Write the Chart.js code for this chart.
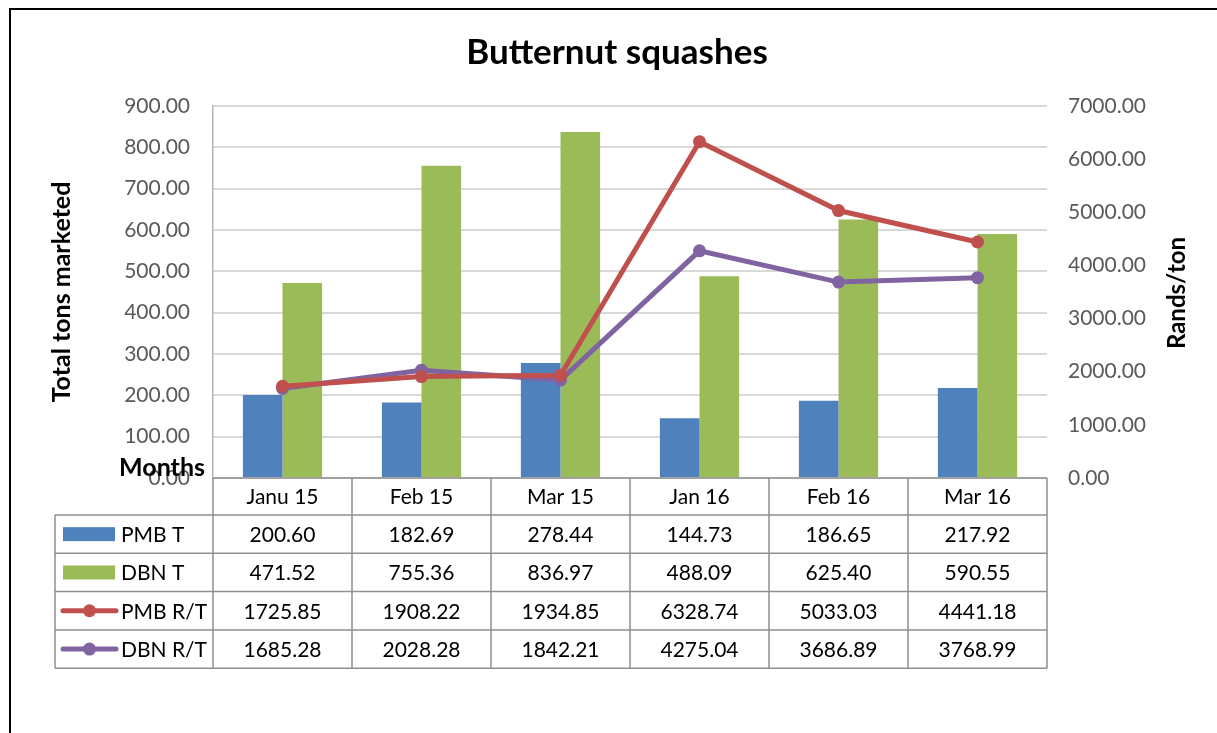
<!DOCTYPE html>
<html>
<head>
<meta charset="utf-8">
<title>Butternut squashes</title>
<script src="https://cdn.jsdelivr.net/npm/chart.js@4.4.0/dist/chart.umd.min.js"></script>
<style>
  html, body { margin: 0; padding: 0; background: #fff; }
  #wrap { position: relative; width: 1217px; height: 733px; }
</style>
</head>
<body>
<div id="wrap"><canvas id="chart" width="1217" height="733"></canvas></div>
<script>
// data
const months = ["Janu 15", "Feb 15", "Mar 15", "Jan 16", "Feb 16", "Mar 16"];
const pmbTons = [200.60, 182.69, 278.44, 144.73, 186.65, 217.92];
const dbnTons = [471.52, 755.36, 836.97, 488.09, 625.40, 590.55];
const pmbRandsPerTon = [1725.85, 1908.22, 1934.85, 6328.74, 5033.03, 4441.18];
const dbnRandsPerTon = [1685.28, 2028.28, 1842.21, 4275.04, 3686.89, 3768.99];
const seriesNames = ["PMB T", "DBN T", "PMB R/T", "DBN R/T"];
const tonsAxis = {min: 0, max: 900, step: 100};
const randsAxis = {min: 0, max: 7000, step: 1000};

const FONT = "Lato, 'Open Sans', sans-serif";
const colors = {blue: "#4f81bd", green: "#9bbb59", red: "#c0504d", purple: "#8064a2"};

// table under the plot, columns follow the x scale
const dataTable = {
    id: "dataTable",
    afterDraw(chart) {
        let ctx = chart.ctx;
        let area = chart.chartArea;
        let xs = chart.scales.x;
        let half = (xs.getPixelForValue(1) - xs.getPixelForValue(0)) / 2;
        let headTop = area.bottom;
        let headH = 37;
        let rowH = 38.3;
        let legendLeft = 55;
        let rowsTop = headTop + headH;
        let tableBottom = rowsTop + rowH * 4;

        ctx.save();
        ctx.strokeStyle = "#8f8f8f";
        ctx.lineWidth = 1.5;
        ctx.beginPath();
        // horizontal lines
        ctx.moveTo(area.left, headTop); ctx.lineTo(area.right, headTop);
        for (let r = 0; r <= 4; r++) {
            let y = rowsTop + r * rowH;
            ctx.moveTo(legendLeft, y); ctx.lineTo(area.right, y);
        }
        // vertical lines
        ctx.moveTo(legendLeft, rowsTop); ctx.lineTo(legendLeft, tableBottom);
        for (let i = 0; i <= months.length; i++) {
            let x = xs.getPixelForValue(i) - half;
            ctx.moveTo(x, headTop); ctx.lineTo(x, tableBottom);
        }
        ctx.stroke();

        ctx.fillStyle = "#000";
        ctx.font = "21px " + FONT;
        ctx.textAlign = "center";
        ctx.textBaseline = "middle";
        months.forEach(function(m, i) {
            ctx.fillText(m, xs.getPixelForValue(i), headTop + headH / 2 + 1);
        });
        chart.data.datasets.forEach(function(ds, r) {
            let cy = rowsTop + r * rowH + rowH / 2 + 1;
            ds.data.forEach(function(v, i) {
                ctx.fillText(v.toFixed(2), xs.getPixelForValue(i), cy);
            });
        });

        // legend keys
        chart.data.datasets.forEach(function(ds, r) {
            let cy = rowsTop + r * rowH + rowH / 2;
            if (ds.type === "line") {
                ctx.strokeStyle = ds.borderColor;
                ctx.lineWidth = 5;
                ctx.lineCap = "round";
                ctx.beginPath();
                ctx.moveTo(63, cy); ctx.lineTo(116, cy);
                ctx.stroke();
                ctx.fillStyle = ds.borderColor;
                ctx.beginPath();
                ctx.arc(89.5, cy, 6.5, 0, Math.PI * 2);
                ctx.fill();
            } else {
                ctx.fillStyle = ds.backgroundColor;
                ctx.fillRect(63, cy - 7, 52, 14);
            }
            ctx.fillStyle = "#000";
            ctx.textAlign = "left";
            ctx.fillText(ds.label, 121, cy + 1);
        });

        // titles
        ctx.textAlign = "center";
        ctx.font = "bold 35px " + FONT;
        ctx.fillText("Butternut squashes", 617, 53);

        ctx.font = "bold 25px " + FONT;
        ctx.textAlign = "right";
        ctx.fillText("Months", 205, 468);

        ctx.textAlign = "center";
        ctx.font = "bold 25px " + FONT;
        ctx.save();
        ctx.translate(62, 292);
        ctx.rotate(-Math.PI / 2);
        ctx.fillText("Total tons marketed", 0, 0);
        ctx.restore();
        ctx.font = "bold 24px " + FONT;
        ctx.save();
        ctx.translate(1177, 293);
        ctx.rotate(-Math.PI / 2);
        ctx.fillText("Rands/ton", 0, 0);
        ctx.restore();

        // outer frame
        ctx.strokeStyle = "#000";
        ctx.lineWidth = 2;
        ctx.beginPath();
        ctx.moveTo(10, 733); ctx.lineTo(10, 9); ctx.lineTo(1217, 9);
        ctx.stroke();
        ctx.restore();
    }
};

new Chart(document.getElementById("chart"), {
    type: "bar",
    data: {
        labels: months,
        datasets: [
            {label: seriesNames[0], data: pmbTons, backgroundColor: colors.blue, yAxisID: "y", order: 2,
                categoryPercentage: 0.57, barPercentage: 1.0},
            {label: seriesNames[1], data: dbnTons, backgroundColor: colors.green, yAxisID: "y", order: 2,
                categoryPercentage: 0.57, barPercentage: 1.0},
            {type: "line", label: seriesNames[2], data: pmbRandsPerTon, borderColor: colors.red,
                backgroundColor: colors.red, borderWidth: 5, pointRadius: 6.5, pointBorderWidth: 0,
                pointBackgroundColor: colors.red, tension: 0, yAxisID: "y2", order: 1},
            {type: "line", label: seriesNames[3], data: dbnRandsPerTon, borderColor: colors.purple,
                backgroundColor: colors.purple, borderWidth: 5, pointRadius: 6.5, pointBorderWidth: 0,
                pointBackgroundColor: colors.purple, tension: 0, yAxisID: "y2", order: 1}
        ]
    },
    options: {
        responsive: false,
        animation: false,
        devicePixelRatio: 1,
        layout: {padding: {top: 106, bottom: 255, left: 0, right: 0}},
        plugins: {legend: {display: false}, title: {display: false}, tooltip: {enabled: false}},
        scales: {
            x: {display: false},
            y: {
                position: "left",
                min: tonsAxis.min, max: tonsAxis.max,
                afterFit: function(scale) { scale.width = 213; },
                ticks: {stepSize: tonsAxis.step, padding: 23, color: "#595959",
                    font: {family: FONT, size: 21},
                    callback: function(v) { return v.toFixed(2); }},
                grid: {color: "#d9d9d9", lineWidth: 2, drawTicks: false},
                border: {display: true, color: "#b3b3b3", width: 1.5}
            },
            y2: {
                position: "right",
                min: randsAxis.min, max: randsAxis.max,
                afterFit: function(scale) { scale.width = 170; },
                ticks: {stepSize: randsAxis.step, padding: 21, color: "#595959",
                    font: {family: FONT, size: 21},
                    callback: function(v) { return v.toFixed(2); }},
                grid: {display: false, drawTicks: false},
                border: {display: false}
            }
        }
    },
    plugins: [dataTable]
});
</script>
</body>
</html>
